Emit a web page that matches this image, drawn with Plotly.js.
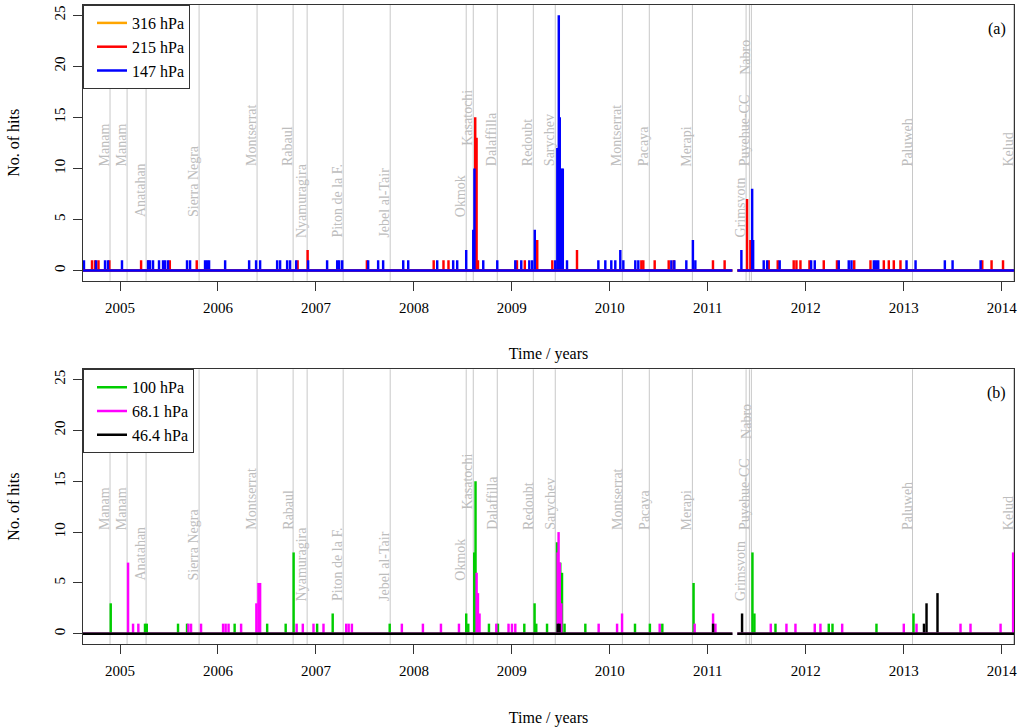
<!DOCTYPE html>
<html><head><meta charset="utf-8">
<script src="https://cdn.plot.ly/plotly-3.0.1.min.js"></script>
<style>html,body{margin:0;padding:0;background:#fff}#chart{width:1018px;height:727px}</style>
</head><body><div id="chart"></div>
<script>
// ---- Volcanic eruptions (decimal years) ----
const volcanoNames = ['Manam','Manam','Anatahan','Sierra Negra','Montserrat','Rabaul','Nyamuragira','Piton de la F.','Jebel al-Tair','Okmok','Kasatochi','Dalaffilla','Redoubt','Sarychev','Montserrat','Pacaya','Merapi','Grimsvotn','Puyehue-CC','Nabro','Paluweh','Kelud'];
const volcanoDates = [2004.898,2005.072,2005.266,2005.807,2006.399,2006.767,2006.910,2007.278,2007.758,2008.534,2008.606,2008.851,2009.219,2009.443,2010.128,2010.403,2010.843,2011.391,2011.425,2011.445,2013.090,2014.122];
const volcanoLabelY = [10,10,5,5,10,10,3,3,3,5,12,10,10,10,10,10,10,3,10,19,10,10];

// ---- Observation coverage (baseline of zero hits, gap = no data) ----
const coverageX = [2004.622, 2011.251, null, 2011.302, 2014.126];
const coverageY = [0, 0, null, 0, 0];

// ---- Axis ticks ----
const yearTicks = [2005,2006,2007,2008,2009,2010,2011,2012,2013,2014];
const yearLabels = ['2005','2006','2007','2008','2009','2010','2011','2012','2013','2014'];
const hitTicks = [0,5,10,15,20,25];

// ---- (a) 316 hPa ----
const hits316Dates = [2009.481,2009.505];
const hits316Counts = [1,1];

// ---- (a) 215 hPa ----
const hits215Dates = [2004.714,2004.745,2004.780,2004.891,2005.215,2005.289,2005.508,2005.783,2006.813,2006.915,2007.520,2008.202,2008.302,2008.353,2008.626,2008.640,2008.654,2009.052,2009.132,2009.259,2009.413,2009.481,2009.494,2009.508,2009.665,2010.322,2010.342,2010.458,2010.601,2010.652,2011.053,2011.172,2011.401,2011.435,2011.622,2011.714,2011.877,2011.905,2011.946,2012.038,2012.184,2012.319,2012.495,2012.661,2012.797,2012.848,2012.899,2012.967,2013.802,2013.897,2014.014];
const hits215Counts = [1,1,1,1,1,1,1,1,1,2,1,1,1,1,15,13,1,1,1,3,1,11,7,4,2,1,1,1,1,1,1,1,7,3,1,1,1,1,1,1,1,1,1,1,1,1,1,1,1,1,1];

// ---- (a) 147 hPa ----
const hits147Dates = [2004.632,2004.755,2004.847,2004.877,2005.020,2005.286,2005.306,2005.337,2005.398,2005.439,2005.460,2005.490,2005.684,2005.715,2005.868,2005.889,2005.909,2006.073,2006.318,2006.389,2006.430,2006.604,2006.634,2006.706,2006.736,2006.798,2006.920,2007.114,2007.217,2007.237,2007.268,2007.533,2007.635,2007.686,2007.891,2007.942,2008.238,2008.401,2008.442,2008.534,2008.606,2008.618,2008.708,2008.851,2009.035,2009.096,2009.178,2009.208,2009.234,2009.443,2009.464,2009.479,2009.489,2009.505,2009.520,2009.563,2009.883,2009.954,2010.015,2010.056,2010.107,2010.138,2010.260,2010.291,2010.628,2010.659,2010.781,2010.848,2010.873,2011.343,2011.453,2011.463,2011.571,2011.606,2011.734,2012.055,2012.092,2012.337,2012.439,2012.467,2012.695,2012.717,2012.740,2013.029,2013.121,2013.420,2013.499,2013.785];
const hits147Counts = [1,1,1,1,1,1,1,1,1,1,1,1,1,1,1,1,1,1,1,1,1,1,1,1,1,1,1,1,1,1,1,1,1,1,1,1,1,1,1,2,4,10,1,1,1,1,1,1,4,1,12,25,15,10,10,1,1,1,1,1,2,1,1,1,1,1,1,3,1,2,8,3,1,1,1,1,1,1,1,1,1,1,1,1,1,1,1,1];

// ---- (b) 100 hPa ----
const hits100Dates = [2004.905,2005.255,2005.273,2005.592,2005.684,2006.170,2006.502,2006.691,2006.772,2007.012,2007.171,2007.753,2008.534,2008.555,2008.616,2008.629,2008.766,2008.858,2009.127,2009.232,2009.249,2009.359,2009.461,2009.494,2009.512,2009.538,2009.750,2010.257,2010.409,2010.536,2010.855,2011.456,2011.476,2011.691,2012.235,2012.273,2012.722,2013.100];
const hits100Counts = [3,1,1,1,1,1,1,1,8,1,2,1,2,1,8,15,1,1,1,3,1,1,9,7,6,1,1,1,1,1,5,8,2,1,1,1,1,2];

// ---- (b) 68.1 hPa ----
const hits68Dates = [2005.082,2005.133,2005.187,2005.698,2005.725,2005.827,2006.052,2006.078,2006.108,2006.236,2006.392,2006.413,2006.430,2006.803,2006.866,2006.975,2007.077,2007.309,2007.334,2007.367,2007.877,2008.092,2008.276,2008.460,2008.640,2008.654,2008.670,2008.841,2008.966,2009.001,2009.035,2009.467,2009.477,2009.489,2009.505,2009.886,2010.074,2010.125,2010.509,2010.866,2011.054,2011.078,2011.643,2011.803,2011.895,2012.092,2012.150,2012.372,2013.001,2013.131,2013.580,2013.682,2013.989,2014.117];
const hits68Counts = [7,1,1,1,1,1,1,1,1,1,3,5,5,1,1,1,1,1,1,1,1,1,1,1,6,4,2,1,1,1,1,8,10,7,3,1,1,2,1,1,2,1,1,1,1,1,1,1,1,1,1,1,1,8];

// ---- (b) 46.4 hPa ----
const hits46Dates = [2009.469,2009.487,2011.054,2011.350,2013.207,2013.233,2013.345];
const hits46Counts = [1,1,1,2,1,3,4];

const FONT = 'Liberation Serif, Times New Roman, serif';
const BAR_W = 0.025;

function series(name, color, dates, counts, xa, ya, legendId) {
  return [
    {type:'scatter', mode:'lines', x:coverageX, y:coverageY, name:name, xaxis:xa, yaxis:ya,
     line:{color:color, width:2.5}, legend:legendId, legendgroup:name, hoverinfo:'skip', connectgaps:false},
    {type:'bar', x:dates, y:counts, width:BAR_W, xaxis:xa, yaxis:ya, name:name,
     marker:{color:color, line:{width:0}}, showlegend:false, legendgroup:name, hoverinfo:'x+y'}
  ];
}

const data = [].concat(
  series('316 hPa', '#FFA500', hits316Dates, hits316Counts, 'x', 'y', 'legend'),
  series('215 hPa', '#FF0000', hits215Dates, hits215Counts, 'x', 'y', 'legend'),
  series('147 hPa', '#0000FF', hits147Dates, hits147Counts, 'x', 'y', 'legend'),
  series('100 hPa', '#00CD00', hits100Dates, hits100Counts, 'x2', 'y2', 'legend2'),
  series('68.1 hPa', '#FF00FF', hits68Dates, hits68Counts, 'x2', 'y2', 'legend2'),
  series('46.4 hPa', '#000000', hits46Dates, hits46Counts, 'x2', 'y2', 'legend2')
);

const shapes = [];
const annotations = [];
[['x','y'],['x2','y2']].forEach(([xa, ya]) => {
  volcanoDates.forEach((d, i) => {
    shapes.push({type:'line', xref:xa, yref:ya+' domain', x0:d, x1:d, y0:0, y1:1,
                 line:{color:'#c8c8c8', width:1}, layer:'below'});
    annotations.push({xref:xa, yref:ya, x:d, y:volcanoLabelY[i], text:volcanoNames[i],
                 textangle:-90, xanchor:'right', yanchor:'bottom', showarrow:false, xshift:4,
                 font:{family:FONT, size:14, color:'#bdbdbd'}});
  });
});
annotations.push({xref:'x domain', yref:'y domain', x:1, y:1, xanchor:'right', yanchor:'top',
  xshift:-6, yshift:-13, text:'(a)', showarrow:false, font:{family:FONT, size:16, color:'#000'}});
annotations.push({xref:'x2 domain', yref:'y2 domain', x:1, y:1, xanchor:'right', yanchor:'top',
  xshift:-6, yshift:-13, text:'(b)', showarrow:false, font:{family:FONT, size:16, color:'#000'}});

function xAxis(anchor) {
  return {anchor:anchor, domain:[0,1], range:[2004.622, 2014.126], tickmode:'array',
    tickvals:yearTicks, ticktext:yearLabels, ticks:'outside', ticklen:9, tickwidth:1, tickcolor:'#333',
    showline:true, linecolor:'#333', linewidth:1, mirror:true, showgrid:false, zeroline:false,
    tickfont:{family:FONT, size:15, color:'#000'}, ticklabelstandoff:4, automargin:false,
    title:{text:'Time / years', standoff:33, font:{family:FONT, size:16, color:'#000'}}};
}
function yAxis(anchor, domain) {
  return {anchor:anchor, domain:domain, range:[-1, 26], tickmode:'array', tickvals:hitTicks,
    ticks:'outside', ticklen:9, tickwidth:1, tickcolor:'#333', tickangle:-90, ticklabelstandoff:2,
    showline:true, linecolor:'#333', linewidth:1, mirror:true, showgrid:false, zeroline:false,
    tickfont:{family:FONT, size:15, color:'#000'}, automargin:false,
    title:{text:'No. of hits', standoff:28, font:{family:FONT, size:16, color:'#000'}}};
}

const legendStyle = (y) => ({x:0, y:y, xref:'paper', yref:'paper', xanchor:'left', yanchor:'top',
  bgcolor:'#fff', bordercolor:'#333', borderwidth:1, font:{family:FONT, size:16, color:'#000'},
  indentation:8, tracegroupgap:0});

const layout = {
  width:1018, height:727, margin:{l:83, r:4, t:5, b:83},
  paper_bgcolor:'#fff', plot_bgcolor:'#fff', barmode:'overlay', showlegend:true,
  font:{family:FONT, color:'#000'},
  xaxis:xAxis('y'), yaxis:yAxis('x', [0.5685, 1]),
  xaxis2:xAxis('y2'), yaxis2:yAxis('x2', [0, 0.4299]),
  legend:legendStyle(1), legend2:legendStyle(0.4299),
  shapes:shapes, annotations:annotations
};

Plotly.newPlot('chart', data, layout, {displayModeBar:false, staticPlot:true});
</script></body></html>
